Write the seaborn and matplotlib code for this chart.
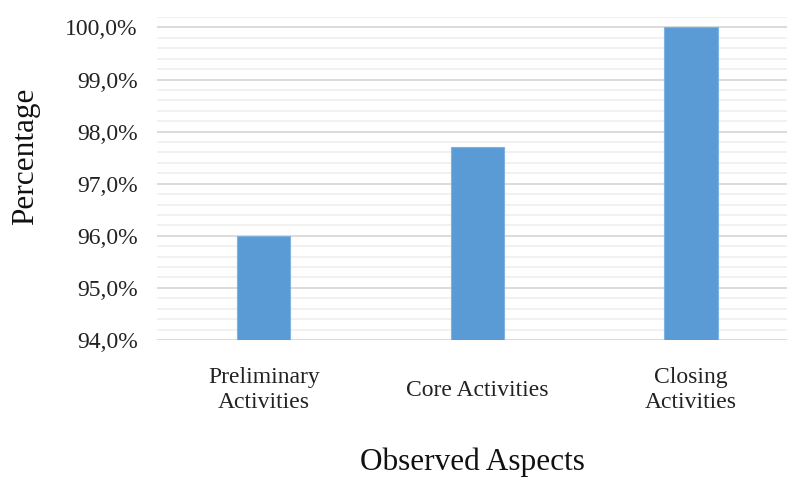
import matplotlib
matplotlib.use("Agg")
import matplotlib.pyplot as plt
from matplotlib.ticker import MultipleLocator, FuncFormatter
import seaborn as sns
import pandas as pd

# Share of observed aspects carried out, per lesson phase
aspects = ["Preliminary\nActivities", "Core Activities", "Closing\nActivities"]
percentages = [96.0, 97.7, 100.0]

df = pd.DataFrame({"aspect": aspects, "pct": percentages})

sns.set_theme(style="white")
plt.rcParams["font.family"] = ["Liberation Serif", "DejaVu Serif"]

fig = plt.figure(figsize=(7.87, 4.79), dpi=100)
ax = fig.add_axes([157 / 787, (479 - 340) / 479, 630 / 787, 323 / 479])

sns.barplot(data=df, x="aspect", y="pct", color="#5b9bd5", width=0.25,
            saturation=1, edgecolor="#7fb2e0", linewidth=0.8, ax=ax, zorder=3)

ax.set_ylim(94.0, 100.2)
ax.set_xlim(-0.5, 2.45)
ax.yaxis.set_major_locator(MultipleLocator(1.0))
ax.yaxis.set_minor_locator(MultipleLocator(0.2))
ax.yaxis.set_major_formatter(FuncFormatter(lambda v, _: f"{v:.1f}%".replace(".", ",")))
ax.grid(axis="y", which="major", color="#d9d9d9", linewidth=1.3, zorder=0)
ax.grid(axis="y", which="minor", color="#f0f0f0", linewidth=1.3, zorder=0)
ax.set_axisbelow(True)

for s in ax.spines.values():
    s.set_visible(False)
ax.tick_params(axis="y", which="both", length=0, pad=14, labelsize=17, colors="#222222")
ax.tick_params(axis="x", length=0, pad=36, labelsize=17, colors="#222222")
for lbl in ax.get_xticklabels():
    lbl.set_linespacing(1.3)
    lbl.set_verticalalignment("center")

ax.set_xlabel("Observed Aspects", fontsize=22.5, color="#111111")
ax.set_ylabel("Percentage", fontsize=22.5, color="#111111")
ax.xaxis.set_label_coords(0.5, -0.332)
ax.yaxis.set_label_coords(-0.186, 0.57)

fig.savefig("out.png", dpi=100)
